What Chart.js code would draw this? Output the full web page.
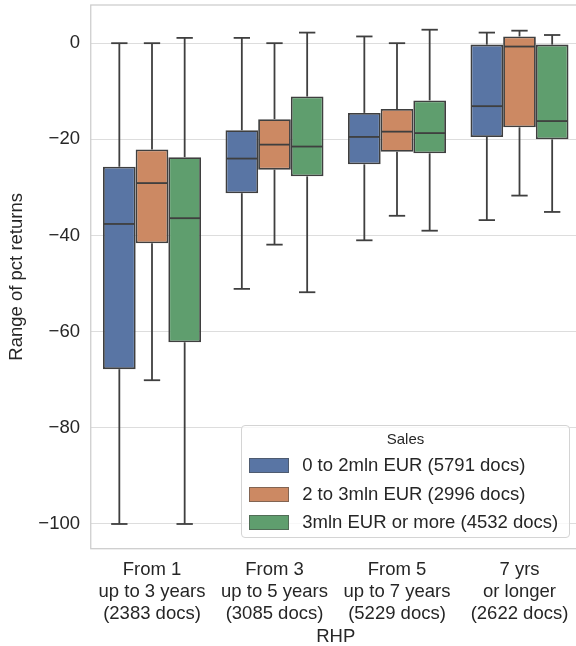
<!DOCTYPE html>
<html><head><meta charset="utf-8">
<script src="https://cdn.jsdelivr.net/npm/chart.js@4.4.1/dist/chart.umd.min.js"></script>
<style>
html,body{margin:0;padding:0;overflow:hidden;background:#fff;width:576px;height:646px;}
#wrap{position:relative;width:576px;height:646px;overflow:hidden;}
#c{position:absolute;left:0;top:0;}
#legend{position:absolute;left:241px;top:425px;width:327px;height:111px;border:1px solid #d4d4d4;border-radius:4px;background:rgba(255,255,255,0.8);font-family:"Liberation Sans",Arial,sans-serif;color:#262626;}
#legend .lt{position:absolute;left:0;right:0;top:4px;height:18px;line-height:18px;text-align:center;font-size:15px;}
#legend .row{position:absolute;left:6.7px;height:22px;line-height:22px;font-size:18.5px;white-space:nowrap;}
#legend .sw{position:absolute;left:0;top:4px;width:38px;height:13px;border:0.8px solid rgba(70,70,70,0.55);}
#legend .tx{position:absolute;left:53.5px;top:0;}
</style></head>
<body>
<div id="wrap">
<canvas id="c" width="590" height="646" style="width:590px;height:646px"></canvas>
<div id="legend"></div>
</div>
<script>
// ---- data ----
const categories = [
  ["From 1", "up to 3 years", "(2383 docs)"],
  ["From 3", "up to 5 years", "(3085 docs)"],
  ["From 5", "up to 7 years", "(5229 docs)"],
  ["7 yrs", "or longer", "(2622 docs)"]
];
const seriesNames = ["0 to 2mln EUR (5791 docs)", "2 to 3mln EUR (2996 docs)", "3mln EUR or more (4532 docs)"];
const seriesColors = ["#5975a4", "#cc8963", "#5f9e6e"];
const yTicks = [-100, -80, -60, -40, -20, 0];

// series 0: 0 to 2mln EUR
const s0Low    = [-100, -51.1, -41.0, -36.8];
const s0Q1     = [-67.8, -31.2, -25.2, -19.5];
const s0Median = [-37.6, -24.0, -19.5, -13.1];
const s0Q3     = [-25.7, -18.1, -14.5, -0.3];
const s0High   = [0, 1.1, 1.4, 2.2];
// series 1: 2 to 3mln EUR
const s1Low    = [-70.1, -41.9, -35.9, -31.7];
const s1Q1     = [-41.6, -26.3, -22.6, -17.5];
const s1Median = [-29.1, -21.1, -18.4, -0.7];
const s1Q3     = [-22.1, -15.8, -13.7, 1.4];
const s1High   = [0, 0, 0, 2.6];
// series 2: 3mln EUR or more
const s2Low    = [-100, -51.8, -39.0, -35.1];
const s2Q1     = [-62.2, -27.7, -22.9, -20.0];
const s2Median = [-36.4, -21.5, -18.7, -16.2];
const s2Q3     = [-23.7, -11.1, -11.9, -0.3];
const s2High   = [1.1, 2.2, 2.8, 1.7];

const SERIES = [
  {lo: s0Low, q1: s0Q1, med: s0Median, q3: s0Q3, hi: s0High},
  {lo: s1Low, q1: s1Q1, med: s1Median, q3: s1Q3, hi: s1High},
  {lo: s2Low, q1: s2Q1, med: s2Median, q3: s2Q3, hi: s2High}
];

const LINE = '#3f3f3f';
const TEXT = '#262626';
const FONT = '"Liberation Sans", Arial, sans-serif';

const datasets = SERIES.map((s, i) => ({
  label: seriesNames[i],
  data: s.q1.map((v, j) => [v, s.q3[j]]),
  backgroundColor: seriesColors[i],
  borderColor: LINE,
  borderWidth: 1.8,
  borderSkipped: false,
  categoryPercentage: 0.8,
  barPercentage: 1.0
}));

const boxExtras = {
  id: 'boxExtras',
  beforeDatasetsDraw(chart) {
    const ctx = chart.ctx, a = chart.chartArea;
    ctx.save();
    ctx.strokeStyle = '#cccccc';
    ctx.lineWidth = 1.25;
    ctx.strokeRect(a.left, a.top, a.right - a.left, a.bottom - a.top);
    ctx.restore();
  },
  afterDatasetsDraw(chart) {
    const ctx = chart.ctx, y = chart.scales.y;
    ctx.save();
    ctx.strokeStyle = LINE;
    ctx.lineWidth = 1.8;
    const line = (x1, y1, x2, y2) => { ctx.beginPath(); ctx.moveTo(x1, y1); ctx.lineTo(x2, y2); ctx.stroke(); };
    chart.data.datasets.forEach((ds, di) => {
      const meta = chart.getDatasetMeta(di);
      const s = SERIES[di];
      meta.data.forEach((bar, i) => {
        const p = bar.getProps(['x', 'width'], true);
        const x = p.x, w = p.width;
        const yLo = y.getPixelForValue(s.lo[i]);
        const yQ1 = y.getPixelForValue(s.q1[i]);
        const yMed = y.getPixelForValue(s.med[i]);
        const yQ3 = y.getPixelForValue(s.q3[i]);
        const yHi = y.getPixelForValue(s.hi[i]);
        line(x, yQ1, x, yLo);
        line(x, yQ3, x, yHi);
        line(x - w / 4, yLo, x + w / 4, yLo);
        line(x - w / 4, yHi, x + w / 4, yHi);
        line(x - w / 2 + 0.9, yMed, x + w / 2 - 0.9, yMed);
      });
    });
    ctx.restore();
  }
};

new Chart(document.getElementById('c'), {
  type: 'bar',
  data: { labels: categories, datasets },
  options: {
    responsive: false,
    animation: false,
    devicePixelRatio: 1,
    layout: { padding: { left: 0, right: 9.25, top: 5, bottom: 0 } },
    plugins: { legend: { display: false }, tooltip: { enabled: false } },
    scales: {
      x: {
        type: 'category',
        grid: { display: false, drawTicks: false },
        border: { display: false },
        ticks: { color: TEXT, font: { family: FONT, size: 18.5 }, padding: 10, maxRotation: 0, autoSkip: false },
        title: { display: true, text: 'RHP', color: TEXT, font: { family: FONT, size: 18.5, lineHeight: 0.9 }, padding: { top: 0, bottom: 1 } },
        afterFit(s) { s.height = 97.3; s.paddingLeft = 0; s.paddingRight = 0; }
      },
      y: {
        type: 'linear',
        min: -105.14,
        max: 7.94,
        afterBuildTicks(s) { s.ticks = yTicks.map(v => ({ value: v })); },
        grid: { color: '#dddddd', lineWidth: 1, drawTicks: false },
        border: { display: false },
        ticks: {
          color: TEXT, font: { family: FONT, size: 18.5 }, padding: 10.75,
          callback: v => String(v).replace('-', '\u2212')
        },
        title: { display: true, text: 'Range of pct returns', color: TEXT, font: { family: FONT, size: 18.5 }, padding: { top: 6, bottom: 0 } },
        afterFit(s) { s.width = 90.75; s.paddingTop = 0; s.paddingBottom = 0; }
      }
    }
  },
  plugins: [boxExtras]
});

// legend (HTML overlay, like matplotlib's inset legend)
const lg = document.getElementById('legend');
const t = document.createElement('div'); t.className = 'lt'; t.textContent = 'Sales'; lg.appendChild(t);
const rowCenters = [39, 68, 96];
seriesNames.forEach((n, i) => {
  const r = document.createElement('div'); r.className = 'row';
  r.style.top = (rowCenters[i] - 11) + 'px';
  const sw = document.createElement('span'); sw.className = 'sw'; sw.style.background = seriesColors[i];
  const tx = document.createElement('span'); tx.className = 'tx'; tx.textContent = n;
  r.appendChild(sw); r.appendChild(tx); lg.appendChild(r);
});
</script>
</body></html>
